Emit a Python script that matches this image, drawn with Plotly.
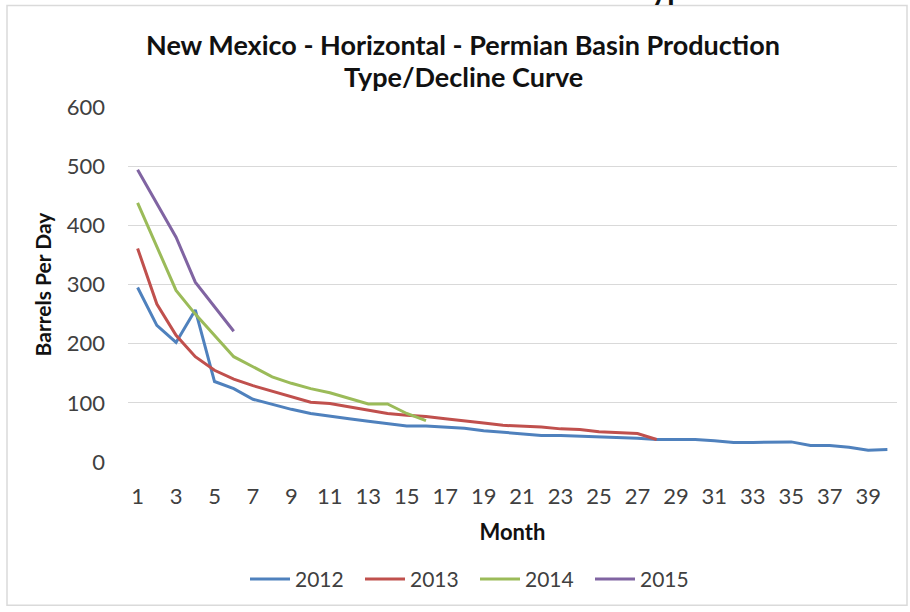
import plotly.graph_objects as go

# Average daily production per well, by month on production, grouped by first-production year
months = list(range(1, 41))

bpd_2012 = [295, 231, 202, 257, 136, 124, 106, 97, 89, 82, 77, 73, 69, 65, 61, 61, 59, 57, 53, 50,
            48, 45, 45, 44, 43, 42, 40, 38, 38, 38, 36, 33, 33, 33, 34, 28, 28, 25, 20, 21]
bpd_2013 = [361, 267, 214, 178, 155, 140, 129, 120, 110, 101, 99, 93, 88, 82, 79, 77, 73, 70, 66, 62,
            61, 59, 56, 55, 51, 50, 48, 38]
bpd_2014 = [438, 365, 290, 250, 214, 178, 161, 144, 133, 124, 117, 108, 98, 98, 82, 70]
bpd_2015 = [494, 438, 380, 304, 262, 221]

series = [
    ("2012", bpd_2012, "#4F81BD"),
    ("2013", bpd_2013, "#C0504D"),
    ("2014", bpd_2014, "#9BBB59"),
    ("2015", bpd_2015, "#8064A2"),
]

title_lines = ["New Mexico - Horizontal - Permian Basin Production", "Type/Decline Curve"]

x_ticks = list(range(1, 40, 2))
y_ticks = [0, 100, 200, 300, 400, 500, 600]

FONT = "Lato, 'Open Sans', sans-serif"
TEXT = "#404040"
DARK = "#111111"

# plot area in pixels: x 128..897, y 107..464
PX_L, PX_W, PX_B, PX_H = 128, 769, 464, 357


def px_x(px):
    return (px - PX_L) / PX_W


def px_y(py):
    return (PX_B - py) / PX_H


fig = go.Figure()
for name, vals, color in series:
    fig.add_trace(go.Scatter(
        x=months[:len(vals)], y=vals, name=name, mode="lines",
        line=dict(color=color, width=3),
    ))

fig.update_layout(
    width=910, height=612,
    margin=dict(l=128, r=13, t=107, b=148),
    paper_bgcolor="white", plot_bgcolor="white",
    font=dict(family=FONT, color=TEXT),
    showlegend=True,
    legend=dict(
        orientation="h", x=px_x(245), xanchor="left", y=px_y(582), yanchor="middle",
        font=dict(family=FONT, size=21, color=TEXT),
        itemwidth=40, tracegroupgap=0,
        entrywidth=60, entrywidthmode="pixels",
    ),
    xaxis=dict(
        range=[0.5, 40.5], tickmode="array", tickvals=x_ticks,
        ticktext=[str(v) for v in x_ticks],
        showgrid=False, zeroline=False, showline=False,
        ticks="", ticklabelstandoff=19,
        tickfont=dict(family=FONT, size=22, color=TEXT),
        title=dict(text="<b>Month</b>", standoff=16,
                   font=dict(family=FONT, size=22, color=DARK)),
    ),
    yaxis=dict(
        range=[0, 600], tickmode="array", tickvals=y_ticks,
        showgrid=True, gridcolor="#d9d9d9", gridwidth=1,
        zeroline=False, showline=False, ticks="", ticklabelstandoff=22,
        tickfont=dict(family=FONT, size=22, color=TEXT),
        title=dict(text="<b>Barrels Per Day</b>", standoff=9,
                   font=dict(family=FONT, size=21, color=DARK)),
    ),
)

# Two-line chart heading
for line_text, center_y in zip(title_lines, [44, 76]):
    fig.add_annotation(text=f"<b>{line_text}</b>", xref="paper", yref="paper",
                       x=px_x(463), y=px_y(center_y), xanchor="center", yanchor="middle",
                       showarrow=False, font=dict(family=FONT, size=27, color=DARK))

# Chart frame
fig.add_shape(type="rect", xref="paper", yref="paper",
              x0=px_x(7), x1=px_x(907), y0=px_y(608), y1=px_y(5),
              line=dict(color="#dadada", width=1.5), fillcolor="rgba(0,0,0,0)", layer="below")

# Heading above the frame, mostly cut off by the page edge
fig.add_annotation(text="<b>Type</b>", xref="paper", yref="paper",
                   x=px_x(668), y=px_y(7), xanchor="center", yanchor="bottom",
                   showarrow=False, font=dict(family=FONT, size=30, color=DARK))

fig.write_html("out.html")
